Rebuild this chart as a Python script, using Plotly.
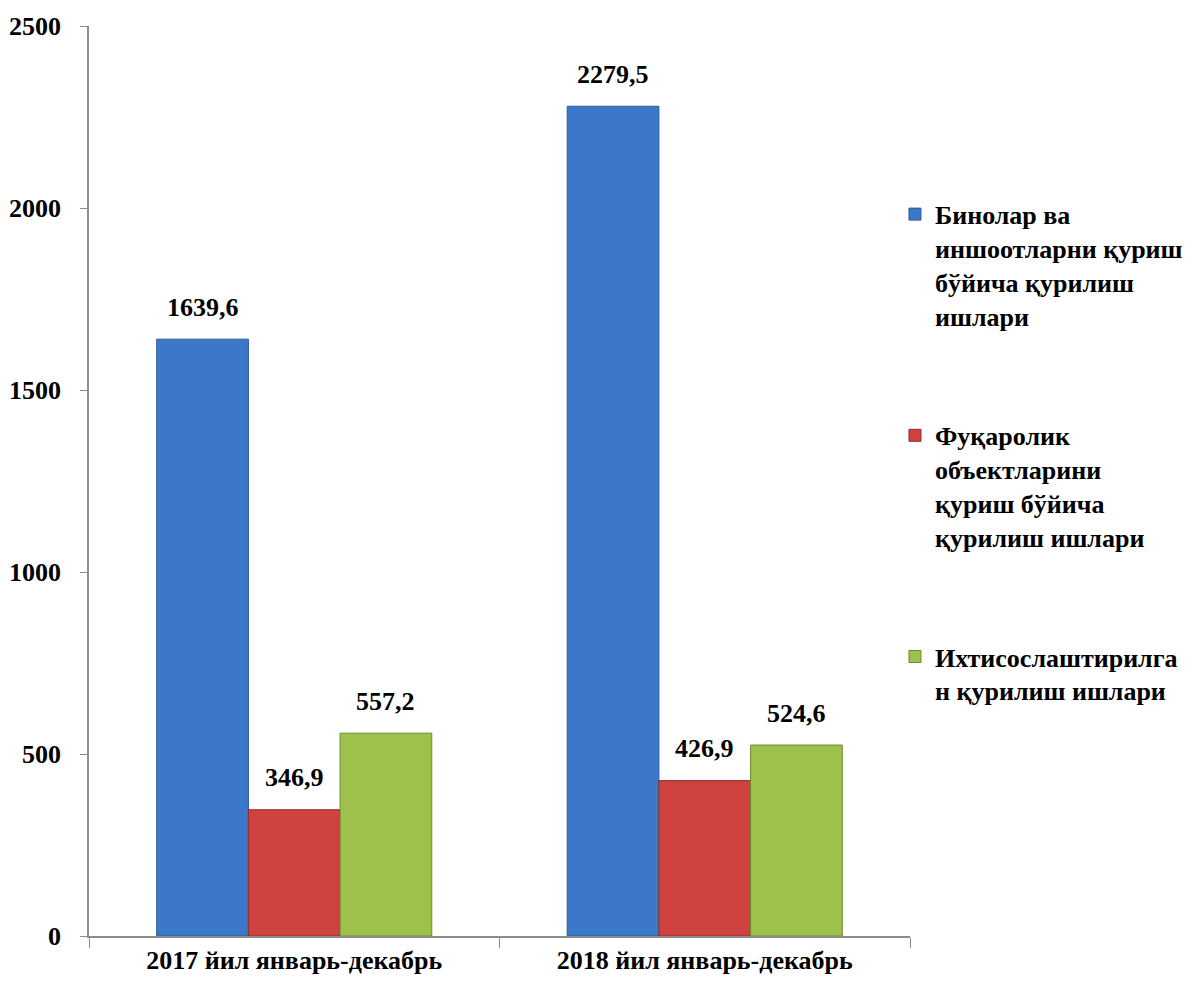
import plotly.graph_objects as go

categories = ["2017 йил январь-декабрь", "2018 йил январь-декабрь"]
series_names = [
    "Бинолар ва<br>иншоотларни қуриш<br>бўйича қурилиш<br>ишлари",
    "Фуқаролик<br>объектларини<br>қуриш бўйича<br>қурилиш ишлари",
    "Ихтисослаштирилга<br>н қурилиш ишлари",
]
buildings = [1639.6, 2279.5]
civil = [346.9, 426.9]
special = [557.2, 524.6]
series_values = [buildings, civil, special]
y_ticks = [0, 500, 1000, 1500, 2000, 2500]

fill_colors = ["#3C78C9", "#CF423F", "#9DC14B"]
line_colors = ["#2B5A94", "#8F2E2B", "#6C8A2E"]
FONT = "Liberation Serif, Times New Roman, serif"

fig = go.Figure()
for name, vals, fc, lc in zip(series_names, series_values, fill_colors, line_colors):
    fig.add_trace(go.Bar(
        x=categories, y=vals, name=name, legendgroup=name,
        marker=dict(color=fc, line=dict(color=lc, width=1)),
    ))

# data labels
bar_w = (1 - 0.33) / 3
annotations = []
for si, vals in enumerate(series_values):
    off = (si - 1) * bar_w
    for ci, v in enumerate(vals):
        annotations.append(dict(
            x=ci + off, y=v, xref="x", yref="y",
            text="<b>" + f"{v:.1f}".replace(".", ",") + "</b>",
            showarrow=False, yanchor="middle", yshift=32,
            font=dict(family=FONT, size=26, color="black"),
        ))

fig.update_layout(
    width=1185, height=975,
    margin=dict(l=81, r=283, t=18, b=47, autoexpand=False),
    paper_bgcolor="white", plot_bgcolor="white",
    barmode="group", bargap=0.33, bargroupgap=0,
    font=dict(family=FONT, size=26, color="black"),
    annotations=annotations,
    legend=dict(
        x=0.9817, xanchor="left", y=0.819, yanchor="top",
        font=dict(family=FONT, size=26, color="black", weight="bold"),
        valign="top", tracegroupgap=83, itemwidth=30,
        bgcolor="rgba(0,0,0,0)",
    ),
    xaxis=dict(
        showline=True, linecolor="#8C8C8C", linewidth=1.5,
        ticks="outside", tickson="boundaries", ticklen=10, tickcolor="#8C8C8C",
        tickfont=dict(family=FONT, size=26, color="black", weight="bold"),
        showgrid=False, zeroline=False, automargin=False,
    ),
    yaxis=dict(
        range=[0, 2500], tickvals=y_ticks,
        showline=True, linecolor="#8C8C8C", linewidth=1.5,
        ticks="outside", ticklen=7, tickcolor="#8C8C8C",
        tickfont=dict(family=FONT, size=26, color="black", weight="bold"),
        showgrid=False, zeroline=False, ticklabelstandoff=14, automargin=False,
    ),
)

fig.write_html("out.html")
